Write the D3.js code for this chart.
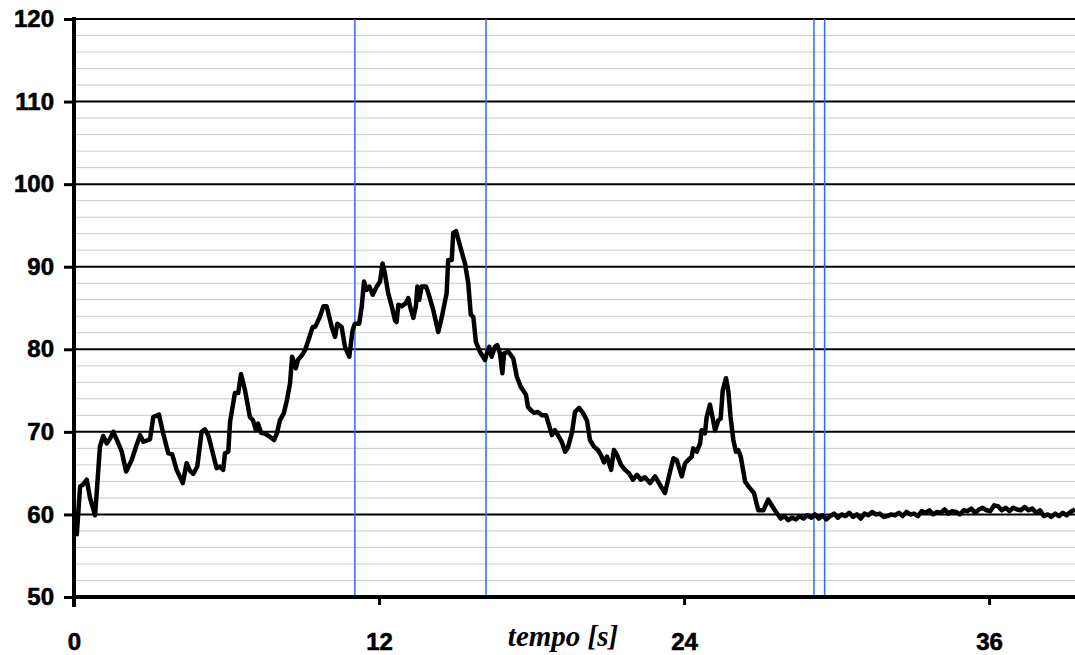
<!DOCTYPE html>
<html>
<head>
<meta charset="utf-8">
<script src="https://cdn.jsdelivr.net/npm/d3@7"></script>
<style>
  html, body { margin: 0; padding: 0; background: #fff; }
  svg { display: block; }
</style>
</head>
<body>
<svg id="chart" width="1075" height="655"></svg>
<script>
// Time samples (s) and measured signal
const timeS = [
  0.00, 0.11, 0.24, 0.35, 0.50, 0.63, 0.83, 1.02, 1.15, 1.29, 1.42, 1.55, 1.69, 1.88, 2.05,
  2.27, 2.44, 2.60, 2.73, 2.99, 3.12, 3.34, 3.51, 3.71, 3.86, 4.04, 4.28, 4.43, 4.56, 4.69,
  4.85, 5.02, 5.15, 5.28, 5.43, 5.61, 5.74, 5.87, 5.94, 6.07, 6.14, 6.33, 6.46, 6.57, 6.73,
  6.92, 7.04, 7.16, 7.24, 7.36, 7.51, 7.71, 7.87, 7.99, 8.10, 8.26, 8.38, 8.50, 8.58, 8.73,
  8.81, 8.97, 9.09, 9.22, 9.39, 9.48, 9.55, 9.68, 9.81, 9.94, 10.14, 10.27, 10.36, 10.53, 10.66,
  10.83, 10.96, 11.05, 11.22, 11.32, 11.41, 11.51, 11.62, 11.75, 11.91, 12.04, 12.14, 12.23, 12.36, 12.50,
  12.63, 12.69, 12.76, 12.89, 13.06, 13.15, 13.22, 13.35, 13.45, 13.51, 13.58, 13.68, 13.85, 13.94, 14.13,
  14.33, 14.47, 14.66, 14.72, 14.86, 14.92, 15.03, 15.18, 15.38, 15.51, 15.61, 15.71, 15.81, 15.97, 16.17,
  16.26, 16.34, 16.43, 16.56, 16.65, 16.76, 16.85, 16.92, 17.09, 17.28, 17.42, 17.57, 17.78, 17.86, 17.98,
  18.10, 18.25, 18.41, 18.57, 18.69, 18.80, 18.92, 19.08, 19.20, 19.32, 19.43, 19.59, 19.71, 19.87, 20.02,
  20.18, 20.30, 20.46, 20.61, 20.73, 20.85, 20.97, 21.13, 21.24, 21.36, 21.52, 21.68, 21.83, 21.99, 22.14,
  22.30, 22.46, 22.66, 22.86, 23.05, 23.25, 23.45, 23.58, 23.71, 23.91, 24.04, 24.17, 24.30, 24.36, 24.50,
  24.63, 24.69, 24.82, 24.89, 25.02, 25.13, 25.22, 25.35, 25.44, 25.52, 25.65, 25.74, 25.83, 25.94, 26.04,
  26.13, 26.23, 26.40, 26.53, 26.75, 26.92, 27.12, 27.31, 27.49, 27.64,
  27.80, 27.95, 28.10, 28.25, 28.40, 28.55, 28.70, 28.85, 29.00, 29.15, 29.30, 29.45, 29.60, 29.75, 29.90,
  30.05, 30.20, 30.35, 30.50, 30.65, 30.80, 30.95, 31.10, 31.25, 31.40, 31.55, 31.70, 31.85, 32.00, 32.15,
  32.30, 32.45, 32.60, 32.75, 32.90, 33.05, 33.20, 33.35, 33.50, 33.65, 33.80, 33.95, 34.10, 34.25, 34.40,
  34.55, 34.70, 34.85, 35.00, 35.15, 35.30, 35.45, 35.60, 35.75, 35.90, 36.05, 36.20, 36.35, 36.50, 36.65,
  36.80, 36.95, 37.10, 37.25, 37.40, 37.55, 37.70, 37.85, 38.00, 38.15, 38.30, 38.45, 38.60, 38.75, 38.90,
  39.05, 39.20, 39.38
];
const signal = [
  60.5, 57.6, 63.4, 63.6, 64.2, 62.0, 59.9, 68.2, 69.5, 68.6, 69.2, 70.0, 69.0, 67.6, 65.2,
  66.6, 68.2, 69.6, 68.8, 69.1, 71.8, 72.1, 69.8, 67.4, 67.3, 65.4, 63.8, 66.2, 65.3, 64.9,
  65.8, 70.0, 70.3, 69.6, 67.8, 65.6, 65.8, 65.4, 67.4, 67.6, 71.2, 74.7, 74.7, 77.0, 75.0,
  71.8, 71.4, 70.2, 71.0, 69.9, 69.8, 69.4, 69.0, 69.9, 71.4, 72.3, 73.9, 75.9, 79.1, 77.7,
  78.7, 79.3, 79.9, 81.1, 82.7, 82.7, 83.1, 84.0, 85.2, 85.2, 82.7, 81.5, 83.1, 82.7, 80.3,
  79.1, 82.3, 83.1, 83.1, 85.2, 88.2, 87.2, 87.6, 86.6, 87.6, 88.2, 90.4, 89.2, 86.8, 85.2,
  83.5, 83.3, 85.4, 85.2, 85.6, 86.2, 85.2, 83.8, 85.2, 87.6, 86.0, 87.6, 87.6, 86.8, 84.8,
  82.1, 83.9, 86.8, 90.8, 90.8, 94.1, 94.3, 92.6, 90.4, 88.0, 84.2, 83.9, 80.9, 79.7, 78.7,
  79.7, 80.3, 79.1, 80.3, 80.5, 79.5, 77.1, 79.5, 79.7, 78.9, 76.7, 75.5, 74.5, 73.0, 72.6,
  72.3, 72.4, 72.0, 72.0, 70.8, 69.6, 70.2, 69.4, 68.7, 67.6, 68.1, 69.9, 72.4, 72.9, 72.3,
  71.4, 69.0, 68.2, 67.8, 67.2, 66.3, 67.0, 65.4, 67.8, 67.2, 66.0, 65.4, 65.0, 64.2, 64.8,
  64.2, 64.5, 63.8, 64.6, 63.6, 62.6, 65.2, 66.8, 66.6, 64.6, 66.2, 66.6, 67.0, 68.0, 67.6,
  68.6, 70.2, 69.8, 71.8, 73.3, 71.6, 70.2, 71.4, 71.6, 75.0, 76.5, 75.0, 71.8, 69.0, 67.6,
  67.8, 67.0, 64.0, 63.4, 62.6, 60.5, 60.5, 61.8, 60.9, 60.2,
  59.5, 59.8, 59.3, 59.6, 59.4, 59.8, 59.5, 59.9, 59.6, 60.0, 59.5, 59.9, 59.4, 59.8, 60.1,
  59.6, 60.0, 59.8, 60.2, 59.7, 60.0, 59.5, 60.1, 59.9, 60.3, 60.0, 60.1, 59.7, 59.8, 60.0,
  59.9, 60.2, 59.8, 60.3, 60.0, 60.1, 59.8, 60.4, 60.2, 60.5, 60.0, 60.3, 60.2, 60.6, 60.1,
  60.4, 60.3, 60.0, 60.5, 60.4, 60.7, 60.2, 60.6, 60.8, 60.5, 60.4, 61.1, 61.0, 60.5, 60.8,
  60.4, 60.8, 60.6, 60.5, 60.9, 60.5, 60.7, 60.2, 60.5, 59.8, 60.0, 59.7, 60.1, 59.8, 60.2,
  59.9, 60.3, 60.6
];

// Event markers (s)
const markers = [11.05, 16.21, 29.11, 29.53];

// Axis ticks
const xTicks = [0, 12, 24, 36];
const yTicks = [50, 60, 70, 80, 90, 100, 110, 120];
const yMinorTicks = d3.range(52, 120, 2).filter(v => v % 10 !== 0);

const svg = d3.select("#chart");
const plotL = 74, plotR = 1075, plotT = 19, plotB = 597;

const x = d3.scaleLinear().domain([0, 39.38]).range([plotL, plotR]);
const y = d3.scaleLinear().domain([50, 120]).range([plotB, plotT]);

// minor grid
svg.append("g").selectAll("line").data(yMinorTicks).join("line")
  .attr("x1", plotL).attr("x2", plotR)
  .attr("y1", d => y(d)).attr("y2", d => y(d))
  .attr("stroke", "#c9c9c9").attr("stroke-width", 1);

// major grid
svg.append("g").selectAll("line").data(yTicks.filter(d => d > 50)).join("line")
  .attr("x1", plotL).attr("x2", plotR)
  .attr("y1", d => y(d)).attr("y2", d => y(d))
  .attr("stroke", "#000").attr("stroke-width", 2);

// event markers
svg.append("g").selectAll("line").data(markers).join("line")
  .attr("x1", d => x(d)).attr("x2", d => x(d))
  .attr("y1", plotT).attr("y2", plotB)
  .attr("stroke", "#3366ff").attr("stroke-width", 1.5);

// signal trace
const pts = timeS.map((t, i) => [t, signal[i]]);
svg.append("defs").append("clipPath").attr("id", "plotclip")
  .append("rect").attr("x", plotL).attr("y", 0).attr("width", plotR - plotL).attr("height", 655);
svg.append("path")
  .datum(pts)
  .attr("clip-path", "url(#plotclip)")
  .attr("fill", "none")
  .attr("stroke", "#000")
  .attr("stroke-width", 4.5)
  .attr("stroke-linejoin", "round")
  .attr("d", d3.line().x(d => x(d[0])).y(d => y(d[1])));

function styleTickText(sel) {
  sel.attr("font-family", "Arial, 'Liberation Sans', sans-serif")
    .attr("font-weight", "bold").attr("font-size", 24)
    .attr("fill", "#000").attr("stroke", "#000").attr("stroke-width", 0.6);
}

// y axis
const yAxis = d3.axisLeft(y).tickValues(yTicks).tickSize(10).tickPadding(10);
const gy = svg.append("g").attr("transform", `translate(${plotL},0)`).call(yAxis);
gy.select(".domain").remove();
gy.selectAll(".tick line").attr("stroke", "#000").attr("stroke-width", 3);
gy.selectAll(".tick text").call(styleTickText);
svg.append("line").attr("x1", plotL).attr("x2", plotL).attr("y1", plotT - 2).attr("y2", plotB + 10)
  .attr("stroke", "#000").attr("stroke-width", 4);

// x axis
const xAxis = d3.axisBottom(x).tickValues(xTicks).tickSize(8).tickPadding(28);
const gx = svg.append("g").attr("transform", `translate(0,${plotB})`).call(xAxis);
gx.select(".domain").remove();
gx.selectAll(".tick line").attr("stroke", "#000").attr("stroke-width", 3);
gx.selectAll(".tick text").call(styleTickText);
svg.append("line").attr("x1", plotL).attr("x2", plotR).attr("y1", plotB).attr("y2", plotB)
  .attr("stroke", "#000").attr("stroke-width", 4);

// axis title
svg.append("text")
  .attr("x", 563).attr("y", 646)
  .attr("text-anchor", "middle")
  .attr("font-family", "'Times New Roman', 'Liberation Serif', serif")
  .attr("font-style", "italic").attr("font-weight", "bold")
  .attr("font-size", 29)
  .text("tempo [s]");
</script>
</body>
</html>
